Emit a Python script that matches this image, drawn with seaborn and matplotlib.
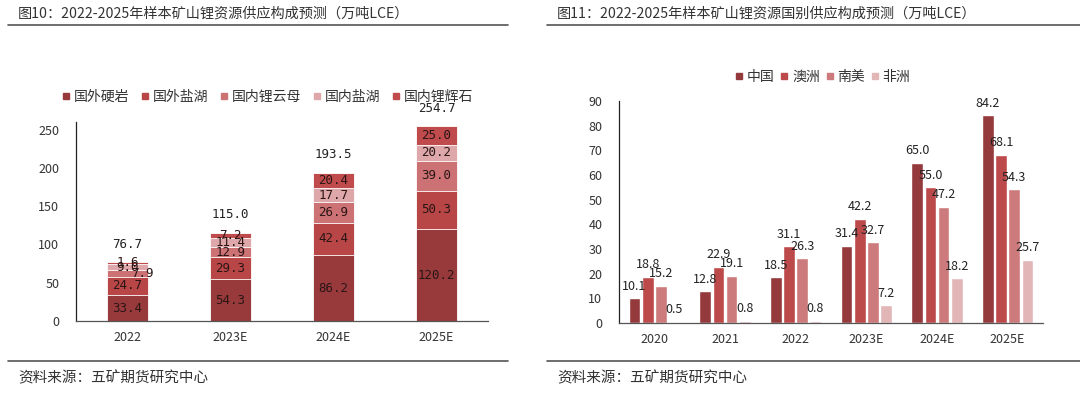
import pandas as pd
import numpy as np
import matplotlib.pyplot as plt
import seaborn as sns
from matplotlib.lines import Line2D

# left chart: stacked supply by source
years_l = ['2022', '2023E', '2024E', '2025E']
overseas_rock = [33.4, 54.3, 86.2, 120.2]
overseas_brine = [24.7, 29.3, 42.4, 50.3]
dom_lepidolite = [7.9, 12.9, 26.9, 39.0]
dom_brine = [9.0, 11.4, 17.7, 20.2]
dom_spodumene = [1.6, 7.2, 20.4, 25.0]
totals_l = [76.7, 115.0, 193.5, 254.7]
names_l = ['国外硬岩', '国外盐湖', '国内锂云母', '国内盐湖', '国内锂辉石']

# right chart: supply by region
years_r = ['2020', '2021', '2022', '2023E', '2024E', '2025E']
china = [10.1, 12.8, 18.5, 31.4, 65.0, 84.2]
australia = [18.8, 22.9, 31.1, 42.2, 55.0, 68.1]
south_america = [15.2, 19.1, 26.3, 32.7, 47.2, 54.3]
africa = [0.5, 0.8, 0.8, 7.2, 18.2, 25.7]
names_r = ['中国', '澳洲', '南美', '非洲']

cols_l = ['#983a3c', '#b94646', '#cc7174', '#dea8aa', '#c04b4d']
cols_r = ['#953a3c', '#bd4a4b', '#cd7a7c', '#e2b5b7']

sns.set_style('white')
plt.rcParams['font.family'] = ['Noto Sans CJK SC', 'DejaVu Sans']
TXT = '#333333'

fig = plt.figure(figsize=(10.8, 3.95), dpi=100)

# ---------- left ----------
ax1 = fig.add_axes([76/1080, 1-321/395, 412/1080, 199/395])
series = [overseas_rock, overseas_brine, dom_lepidolite, dom_brine, dom_spodumene]
cum = np.cumsum(np.array(series), axis=0)
dfl = pd.DataFrame({'year': years_l})
# draw cumulative heights from the top layer down so they stack visually
for j in range(len(series)-1, -1, -1):
    dfl['v'] = cum[j]
    sns.barplot(data=dfl, x='year', y='v', color=cols_l[j], width=0.4, saturation=1,
                edgecolor='white', linewidth=0.6, ax=ax1)
ax1.set_ylim(0, 260)
ax1.set_yticks([0, 50, 100, 150, 200, 250])
ax1.set_xlabel('')
ax1.set_ylabel('')
for i in range(len(years_l)):
    for j in range(len(series)):
        lo = cum[j-1][i] if j > 0 else 0
        dx = 0.14 if (i == 0 and j == 2) else 0
        ax1.text(i + dx, (lo + cum[j][i]) / 2, '%.1f' % series[j][i], ha='center', va='center',
                 fontsize=9, color='#2a1515', family=['DejaVu Sans Mono'])
    ax1.annotate('%.1f' % totals_l[i], (i, cum[-1][i]), xytext=(0, 13), textcoords='offset points',
                 ha='center', va='center', fontsize=9, color='#222222', family=['DejaVu Sans Mono'])

handles_l = [Line2D([], [], marker='s', ls='', color=c, markersize=5) for c in cols_l]
fig.legend(handles_l, names_l, loc='center', bbox_to_anchor=(268/1080, 1-97/395), ncol=5,
           frameon=False, fontsize=10, handlelength=0.5, handletextpad=0.3, columnspacing=0.9,
           labelcolor=TXT)

# ---------- right ----------
ax2 = fig.add_axes([619/1080, 1-323/395, 424/1080, 222/395])
dfr = pd.DataFrame({'year': np.repeat(years_r, 4),
                    'region': names_r * len(years_r),
                    'v': np.array([china, australia, south_america, africa]).T.ravel()})
sns.barplot(data=dfr, x='year', y='v', hue='region', palette=cols_r, width=0.75, gap=0.12,
            saturation=1, legend=False, ax=ax2)
ax2.set_ylim(0, 90)
ax2.set_yticks(range(0, 91, 10))
ax2.set_xlabel('')
ax2.set_ylabel('')
for cont in ax2.containers:
    ax2.bar_label(cont, fmt='%.1f', padding=4, fontsize=9, color='#222222')

handles_r = [Line2D([], [], marker='s', ls='', color=c, markersize=5) for c in cols_r]
fig.legend(handles_r, names_r, loc='center', bbox_to_anchor=(823/1080, 1-77/395), ncol=4,
           frameon=False, fontsize=10, handlelength=0.5, handletextpad=0.3, columnspacing=0.45,
           labelcolor=TXT)

for ax in (ax1, ax2):
    sns.despine(ax=ax)
    ax.spines['left'].set_color('#222222')
    ax.spines['bottom'].set_color('#555555')
    ax.spines['left'].set_linewidth(0.9)
    ax.spines['bottom'].set_linewidth(0.9)
    ax.tick_params(length=0, labelsize=9, labelcolor=TXT)
    ax.tick_params(axis='y', pad=12)
    ax.tick_params(axis='x', pad=7)

# titles, rules and source notes
fig.text(18/1080, 1-14/395, '图10：2022-2025年样本矿山锂资源供应构成预测（万吨LCE）', fontsize=10.2,
         color=TXT, va='center', ha='left')
fig.text(557/1080, 1-14/395, '图11：2022-2025年样本矿山锂资源国别供应构成预测（万吨LCE）', fontsize=10.2,
         color=TXT, va='center', ha='left')
for x0, x1 in [(8, 508), (547, 1080)]:
    for yy in (25, 361):
        fig.add_artist(Line2D([x0/1080, x1/1080], [1-yy/395]*2, color='#555555', lw=1.2))
fig.text(18/1080, 1-378/395, '资料来源：五矿期货研究中心', fontsize=10.5, color=TXT, va='center')
fig.text(557/1080, 1-378/395, '资料来源：五矿期货研究中心', fontsize=10.5, color=TXT, va='center')

fig.savefig('out.png', dpi=100, facecolor='white')
